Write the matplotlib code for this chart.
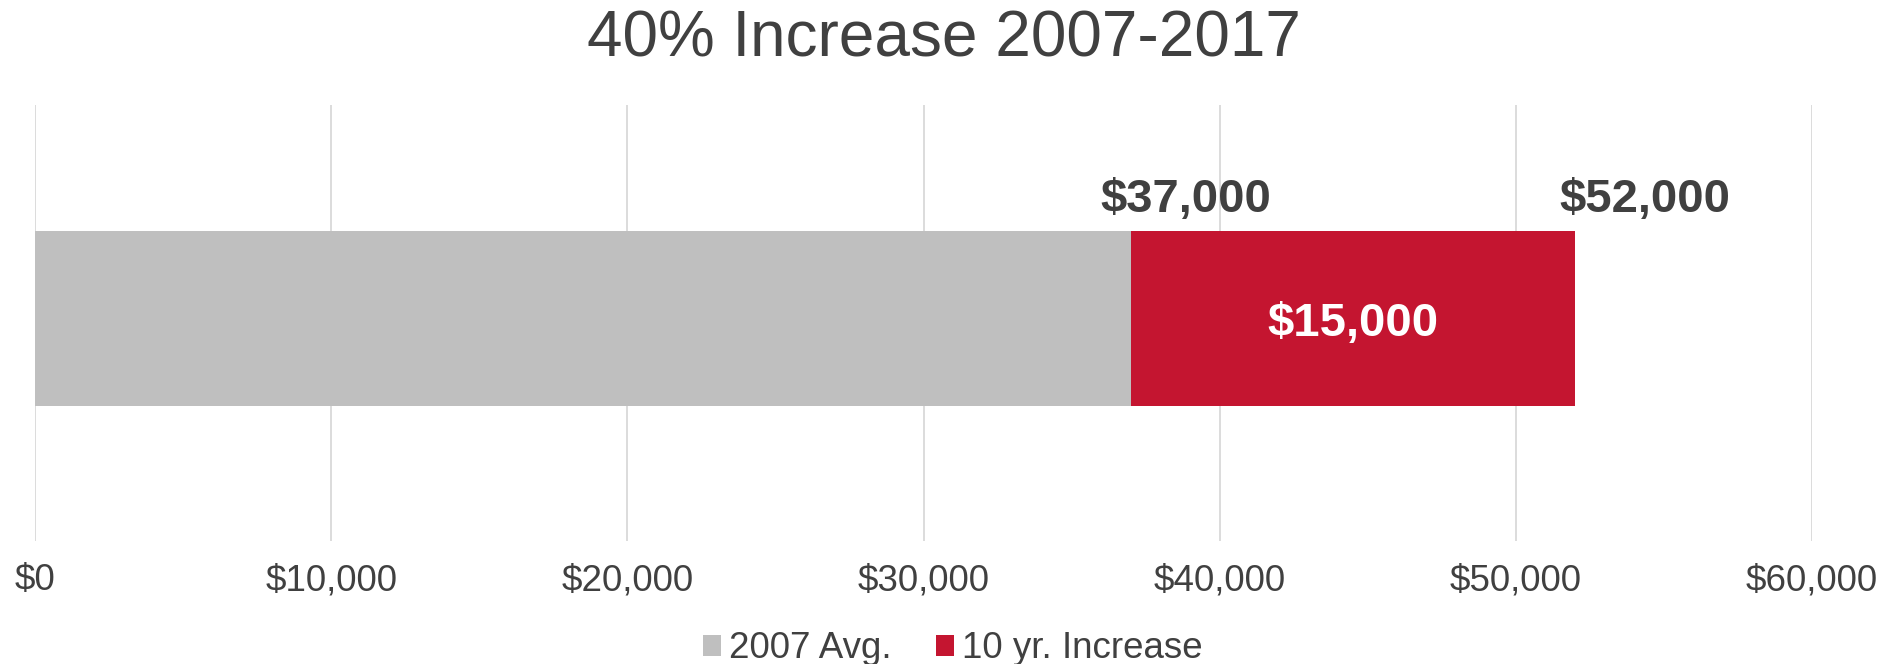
import matplotlib.pyplot as plt
from matplotlib.ticker import FuncFormatter

plt.rcParams['font.family'] = ['Liberation Sans', 'DejaVu Sans']

# Average wage, 2007 vs 10 years later
series_names = ['2007 Avg.', '10 yr. Increase']
base_2007 = [37000]
increase = [15000]
total_2017 = [52000]
x_ticks = [0, 10000, 20000, 30000, 40000, 50000, 60000]

text_col = '#404040'
gray = '#BFBFBF'
red = '#C41530'

fig = plt.figure(figsize=(18.87, 6.64), dpi=100)
ax = fig.add_axes([0.0186, 0.1852, 0.9417, 0.6567])

y = [0]
ax.barh(y, base_2007, height=0.4, color=gray, label=series_names[0], zorder=2)
ax.barh(y, increase, left=base_2007, height=0.4, color=red, label=series_names[1], zorder=2)

ax.set_xlim(0, 60000)
ax.set_ylim(-0.51, 0.49)
ax.set_xticks(x_ticks)
ax.xaxis.set_major_formatter(FuncFormatter(lambda v, p: '${:,.0f}'.format(v)))
ax.tick_params(axis='x', length=0, pad=16, labelsize=26.5, labelcolor=text_col)
ax.set_yticks([])
for s in ax.spines.values():
    s.set_visible(False)
ax.grid(axis='x', color='#D9D9D9', linewidth=1.3, zorder=0)

# value labels
ax.annotate('${:,}'.format(increase[0]), xy=(base_2007[0] + increase[0] / 2, 0),
            xytext=(0, -4), textcoords='offset points', ha='center', va='center',
            color='white', fontsize=34, fontweight='bold', zorder=3)
for val, off in zip([base_2007[0], total_2017[0]], [-22, -11]):
    ax.annotate('${:,}'.format(val), xy=(val, 0.2), xytext=(off, 22.5),
                textcoords='offset points', ha='left', va='center',
                color=text_col, fontsize=34, fontweight='bold')

fig.text(0.5, 0.940, '40% Increase 2007-2017', ha='center', va='center',
         fontsize=46, color=text_col)

leg = fig.legend(loc='center', bbox_to_anchor=(0.505, 0.023), ncol=2, frameon=False,
                 fontsize=26.5, handlelength=0.49, handleheight=0.49,
                 handletextpad=0.22, columnspacing=1.2, borderpad=0)
for t in leg.get_texts():
    t.set_color(text_col)

fig.savefig('out.png', dpi=100)
